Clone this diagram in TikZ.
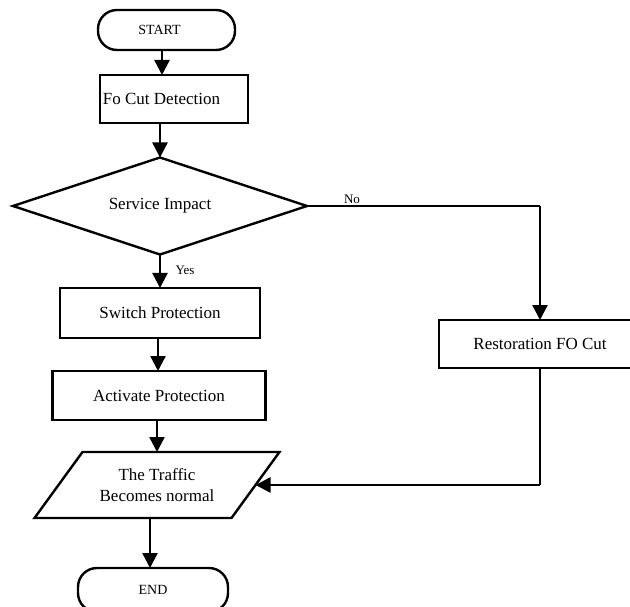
\documentclass[tikz,border=0pt]{standalone}
\usepackage{fontspec}
\setmainfont{Liberation Serif}
\usetikzlibrary{shapes.geometric,arrows.meta}
\begin{document}
\begin{tikzpicture}[x=1pt,y=-1pt,
  every node/.style={inner sep=0pt, outer sep=0pt},
  box/.style={draw, line width=2.4pt, rectangle, font=\fontsize{17}{20}\selectfont},
  pill/.style={draw, line width=2.4pt, rectangle, rounded corners=19pt, font=\fontsize{14}{16}\selectfont},
  arr/.style={line width=2.4pt, -{Triangle[length=15pt,width=15pt]}},
  thinline/.style={line width=1.4pt},
  lbl/.style={font=\fontsize{13}{15}\selectfont}]
\useasboundingbox (0,0) rectangle (630,607);
\clip (0,0) rectangle (630,607);

% nodes
\node[pill, minimum width=137pt, minimum height=40pt] (s) at (166.5,30) {START\hspace*{14pt}};
\node[box, minimum width=148pt, minimum height=48pt] (f) at (174,99) {Fo Cut Detection\hspace*{25pt}};
\node[draw, diamond, shape aspect=3, line width=2.4pt, minimum width=294pt, minimum height=97pt,
      font=\fontsize{17}{20}\selectfont] (d) at (160,206) {Service Impact};
\node[box, minimum width=200pt, minimum height=50pt] (sw) at (160,313) {Switch Protection};
\node[box, minimum width=213pt, minimum height=49pt] (a) at (159,395.5) {Activate Protection};
\node[minimum width=197pt, minimum height=66pt, align=center,
      font=\fontsize{17}{21}\selectfont] (p) at (157,485) {The Traffic\\Becomes normal};
\draw[line width=2.4pt, line join=miter]
  ([xshift=24pt]p.north west) -- ([xshift=24pt]p.north east) --
  ([xshift=-24pt]p.south east) -- ([xshift=-24pt]p.south west) -- cycle;
\node[pill, minimum width=150pt, minimum height=44pt] (e) at (153,590) {END};
\node[box, minimum width=202pt, minimum height=48pt] (r) at (540,344) {Restoration FO Cut};

% labels
\node[lbl] (no) at (352,199) {No};
\node[lbl] (yes) at (185,270) {Yes};

% connectors
\draw[arr] ([xshift=-4.5pt]s.south) -- ([xshift=-4.5pt]s.south |- f.north);
\draw[arr] (d.north |- f.south) -- (d.north);
\draw[arr] (d.south) -- (sw.north);
\draw[arr] ([xshift=-2pt]sw.south) -- ([xshift=-2pt]sw.south |- a.north);
\draw[arr] (p.north |- a.south) -- (p.north);
\draw[arr] ([xshift=-3pt]e.north |- p.south) -- ([xshift=-3pt]e.north);

\coordinate (c1) at (r.north |- d.east);
\draw[thinline] (d.east) -- (c1);
\draw[arr] (c1) -- (r.north);

\coordinate (c2) at (r.south |- p.east);
\draw[thinline] (r.south) -- (c2);
\draw[arr] (c2) -- (p.east);
\end{tikzpicture}
\end{document}
